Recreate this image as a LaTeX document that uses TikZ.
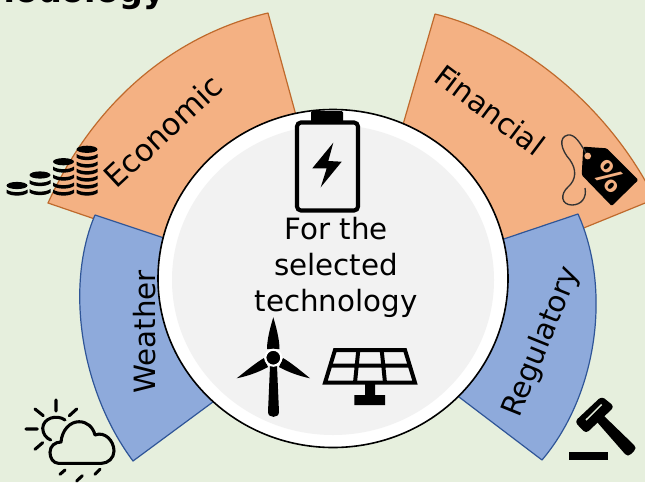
\documentclass[tikz,border=0pt]{standalone}
\usepackage{fontspec}
\setmainfont{DejaVu Sans}
\usepackage{xcolor}
\definecolor{bgGreen}{HTML}{E6EFDD}
\definecolor{fillOrange}{HTML}{F4B183}
\definecolor{edgeOrange}{HTML}{BF6A2C}
\definecolor{fillBlue}{HTML}{8EAADB}
\definecolor{edgeBlue}{HTML}{2F5597}
\definecolor{coreGray}{HTML}{F2F2F2}

\begin{document}
\begin{tikzpicture}[x=0.75pt,y=0.75pt,yscale=-1,xscale=1,
  orangeSector/.style={draw=edgeOrange,fill=fillOrange,line width=0.9pt,line join=round},
  blueSector/.style={draw=edgeBlue,fill=fillBlue,line width=0.9pt,line join=round},
  iconLine/.style={draw=black,line width=2.3pt,line cap=round,line join=round},
  sectorText/.style={inner sep=0.75pt,font=\fontsize{22}{27}\selectfont}]
\useasboundingbox (0,0) rectangle (645,482);
\clip (0,0) rectangle (645,482);

%Shape: Rectangle 
\fill [bgGreen] (0,0) rectangle (645,482);

% Text Node
\draw (165,2) node (lblTitle) [anchor=base east][inner sep=0pt] [font=\fontsize{25}{30}\selectfont\bfseries] {Methodology};

%Shape: Economic sector 
\draw [orangeSector] (268,13) .. controls (175,35) and (95,100) .. (48,203) -- (200,255) -- (300,130) -- cycle ;
%Shape: Financial sector 
\draw [orangeSector] (435,14) .. controls (520,35) and (608,105) .. (655,199) -- (500,262) -- (400,135) -- cycle ;
%Shape: Weather sector 
\draw [blueSector] (95,215) .. controls (65,285) and (80,390) .. (133,461) -- (240,382) -- (200,250) -- cycle ;
%Shape: Regulatory sector 
\draw [blueSector] (578,214) .. controls (612,290) and (597,395) .. (542,460) -- (430,375) -- (480,247) -- cycle ;

%Shape: Circle 
\draw [fill=white,line width=1.2pt] (333,278.5) ellipse [x radius=175,y radius=169];
%Shape: Circle 
\fill [coreGray] (333,280) ellipse [x radius=161,y radius=155];

%Battery 
\fill [black,rounded corners=1pt] (311,111) rectangle (343,124);
\draw [line width=3.1pt,rounded corners=3pt,fill=coreGray] (297,122.5) rectangle (358,210.5);
\fill [black] (333.3,142.7) -- (312.3,168.3) -- (326.7,168.3) -- (320.7,187.3) -- (341.7,161.7) -- (328.3,161) -- cycle ;

%Wind turbine 
\fill [black] (270,366) -- (277,366) -- (279,412) .. controls (279,418.5) and (268,418.5) .. (268,412) -- cycle ;
\fill [black] (273.3,317.3) .. controls (270,328) and (267,340) .. (267,349) -- (279.5,349) .. controls (279.5,340) and (276.5,328) .. (273.3,317.3) -- cycle ;
\fill [black] (236.7,378.3) .. controls (247,370) and (257,362) .. (264,358) -- (268,367) .. controls (259,372) and (248,376) .. (236.7,378.3) -- cycle ;
\fill [black] (310,378.3) .. controls (300,370) and (290,362) .. (283,358) -- (279,367) .. controls (288,372) and (299,376) .. (310,378.3) -- cycle ;
\draw [fill=black,draw=white,line width=1.6pt] (273.3,357.7) circle (8);

%Solar panel 
\draw [line width=3pt,line join=miter] (335,350) -- (405,350) -- (415,382.7) -- (325,382.7) -- cycle ;
\draw [line width=3pt] (330,365.5) -- (410,365.5) (358.3,350) -- (355,382.7) (381.7,350) -- (385,382.7) ;
\fill [black] (365,382.7) rectangle (375,395) (354.3,395) rectangle (385,405);

%Coin stacks 
\foreach \cx/\ct/\rows in {17/185.5/{193},40/175/{183.5,192.5},63.5/161.7/{170,178,186,193},87/149.3/{157.5,165,172,179,186,193}}{
  \fill [black] (\cx,\ct) ellipse [x radius=10.5,y radius=3.6];
  \foreach \cy in \rows {
    \fill [black] (\cx-10.5,\cy-3.5) .. controls (\cx-6,\cy) and (\cx+6,\cy) .. (\cx+10.5,\cy-3.5) -- (\cx+10.5,\cy) .. controls (\cx+6,\cy+3.5) and (\cx-6,\cy+3.5) .. (\cx-10.5,\cy) -- cycle ;
  }
}

%Price tag 
\fill [black,rounded corners=1pt] (583.3,146.7) -- (606.7,148.3) -- (638.3,180) -- (611.7,206) -- (581.7,175) -- cycle ;
\fill [fillOrange] (587.7,156) circle (3.4);
\draw [line width=1pt,draw=black!80] (586,153) .. controls (580,143) and (575,134) .. (568,135) .. controls (558,137) and (561,150) .. (570,160) .. controls (577,170) and (576,180) .. (568,187) .. controls (560,194) and (561,205) .. (572,205) .. controls (581,205) and (587,198) .. (585,188) ;
\draw (609.3,176.7) node (lblPercent) [rotate=-45][inner sep=0pt] [text=fillOrange,font=\fontsize{23}{24}\selectfont\bfseries] {\%};

%Sun and cloud 
\draw [iconLine] (65,420) .. controls (57,414) and (43,418) .. (42.7,428.3) .. controls (43,434) and (46,438) .. (50.7,440) ;
\draw [iconLine] (56,400) -- (56,411) (35,409) -- (43.3,415.7) (76.7,409) -- (69.3,415.7) (26,429) -- (37.3,429) (35,449.3) -- (42.7,442.7) ;
\draw [iconLine] (58.3,463.3) .. controls (53,463) and (50,458) .. (50,452.3) .. controls (50,446) and (55,442) .. (61,442) .. controls (62,430) and (70,421.7) .. (79,421.7) .. controls (87,421.7) and (93,427) .. (95,435) .. controls (105,431) and (114,441) .. (114,451) .. controls (114,458) and (108,463.3) .. (101.7,463.3) -- cycle ;
\draw [iconLine] (60,474.3) -- (65,470) (76.7,481) -- (82.3,475.7) (95,474.3) -- (100,469.3) ;

%Gavel 
\fill [black] (597,422) -- (603,415) -- (634,445) .. controls (636,447) and (636,449) .. (634,451) -- (631,454) .. controls (629,456) and (627,456) .. (625,454) -- cycle ;
\draw [fill=black,line width=2pt,line join=round,rounded corners=2pt] (601.7,398) -- (612.5,406.7) -- (586,431.7) -- (576.5,421.7) -- cycle ;
\draw [line width=1.1pt,draw=bgGreen] (586,420) -- (601.7,404.5) ;
\fill [black] (569.3,452.3) rectangle (607.7,460);

% Text Node
\draw (163,131) node (lblEconomic) [rotate=43] [sectorText,font=\fontsize{23}{27}\selectfont] {Economic};
% Text Node
\draw (490,110) node (lblFinancial) [rotate=-37] [sectorText] {Financial};
% Text Node
\draw (145,332) node (lblWeather) [rotate=90] [sectorText] {Weather};
% Text Node
\draw (542,342) node (lblRegulatory) [rotate=68] [sectorText] {Regulatory};
% Text Node
\draw (336,267) node (lblCore) [align=center] [sectorText] {For the\\selected\\technology};

\end{tikzpicture}
\end{document}
